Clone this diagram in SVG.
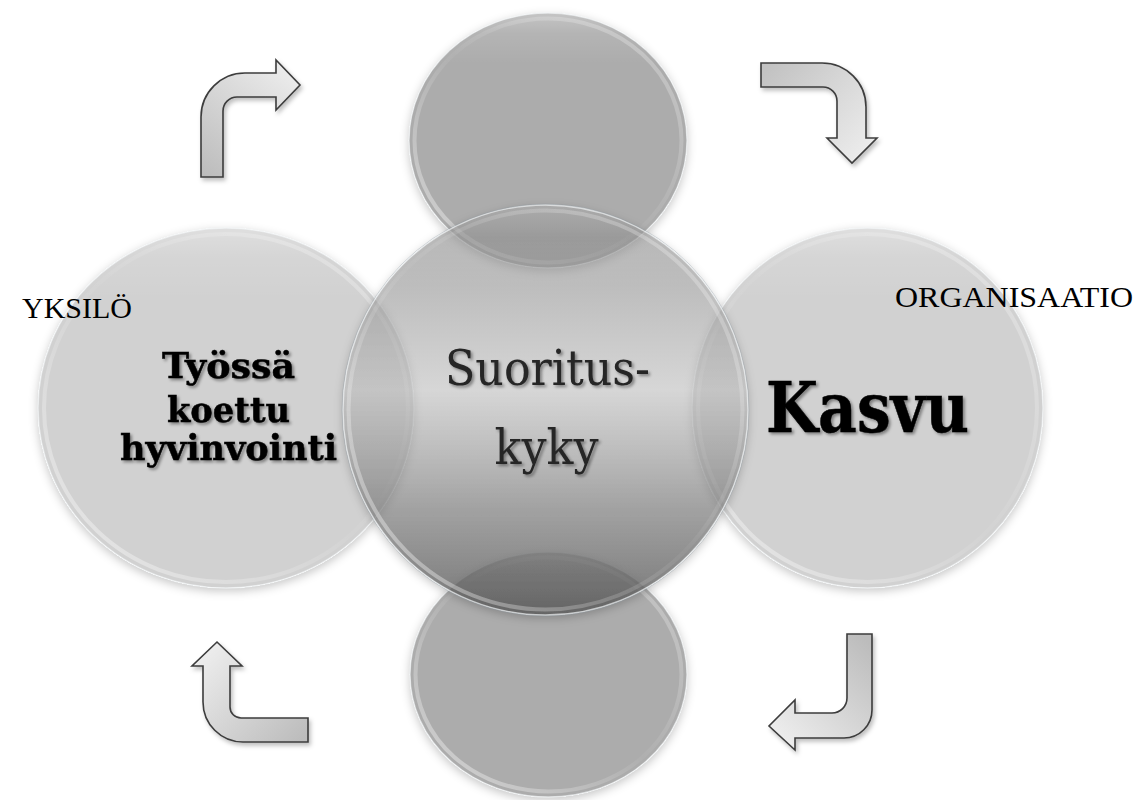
<svg xmlns="http://www.w3.org/2000/svg" width="1140" height="800" viewBox="0 0 1140 800">
  <defs>
    <style>
      .rim { fill: none; stroke: url(#rimGrad); stroke-width: 4; }
      .edge { fill: none; stroke: #f4f7f9; stroke-width: 1.4; stroke-opacity: 0.65; }
      .edge2 { fill: none; stroke: #8f9aa3; stroke-width: 0.8; stroke-opacity: 0.4; }
      .arrow { stroke: #3c3c3c; stroke-width: 1.6; stroke-linejoin: miter; filter: url(#arrowShadow); }
      .bold { font-family: "DejaVu Serif", "Liberation Serif", serif; font-weight: bold; fill: #000; stroke: #000; stroke-width: 0.5; filter: url(#txtShadow); }
      .plain { font-family: "DejaVu Serif", "Liberation Serif", serif; fill: #262626; filter: url(#txtShadow); }
      .side { font-family: "Liberation Serif", "Times New Roman", serif; fill: #000; font-size: 30px; }
    </style>

    <!-- glassy inner rim: bright at lower-left and top-right, faint across the middle -->
    <linearGradient id="rimGrad" x1="1" y1="0" x2="0" y2="1">
      <stop offset="0" stop-color="#fff" stop-opacity="0.35"/>
      <stop offset="0.5" stop-color="#fff" stop-opacity="0.04"/>
      <stop offset="1" stop-color="#fff" stop-opacity="0.5"/>
    </linearGradient>

    <!-- central disc: metallic vertical gradient -->
    <linearGradient id="centerFill" x1="0" y1="0" x2="0" y2="1">
      <stop offset="0" stop-color="#707070" stop-opacity="0.6"/>
      <stop offset="0.45" stop-color="#bbbbbb" stop-opacity="0.6"/>
      <stop offset="0.75" stop-color="#777777" stop-opacity="0.7"/>
      <stop offset="1" stop-color="#545454" stop-opacity="0.8"/>
    </linearGradient>

    <!-- top highlight band inside each disc -->
    <linearGradient id="topSheen" x1="0" y1="0" x2="0" y2="1">
      <stop offset="0" stop-color="#fff" stop-opacity="0.3"/>
      <stop offset="0.08" stop-color="#fff" stop-opacity="0.1"/>
      <stop offset="0.2" stop-color="#fff" stop-opacity="0"/>
    </linearGradient>

    <!-- arrow fills: darker at the tail, lighter toward the head -->
    <linearGradient id="arrGrad1" gradientUnits="userSpaceOnUse" x1="205" y1="177" x2="290" y2="70">
      <stop offset="0" stop-color="#bcbcbc"/>
      <stop offset="1" stop-color="#ececec"/>
    </linearGradient>
    <linearGradient id="arrGrad2" gradientUnits="userSpaceOnUse" x1="761" y1="75" x2="860" y2="160">
      <stop offset="0" stop-color="#c2c2c2"/>
      <stop offset="1" stop-color="#ececec"/>
    </linearGradient>
    <linearGradient id="arrGrad3" gradientUnits="userSpaceOnUse" x1="308" y1="735" x2="215" y2="645">
      <stop offset="0" stop-color="#bcbcbc"/>
      <stop offset="1" stop-color="#ececec"/>
    </linearGradient>
    <linearGradient id="arrGrad4" gradientUnits="userSpaceOnUse" x1="860" y1="634" x2="772" y2="726">
      <stop offset="0" stop-color="#bcbcbc"/>
      <stop offset="1" stop-color="#ececec"/>
    </linearGradient>

    <!-- soft halo drawn only outside the shape -->
    <filter id="halo" x="-20%" y="-20%" width="140%" height="140%">
      <feComponentTransfer in="SourceAlpha" result="solid">
        <feFuncA type="linear" slope="20"/>
      </feComponentTransfer>
      <feGaussianBlur in="solid" stdDeviation="5" result="blur"/>
      <feOffset in="blur" dx="0" dy="3" result="off"/>
      <feComposite in="off" in2="solid" operator="out" result="outside"/>
      <feColorMatrix in="outside" type="matrix" values="0 0 0 0 0  0 0 0 0 0  0 0 0 0 0  0 0 0 0.22 0" result="shadow"/>
      <feMerge>
        <feMergeNode in="shadow"/>
        <feMergeNode in="SourceGraphic"/>
      </feMerge>
    </filter>

    <filter id="arrowShadow" x="-20%" y="-20%" width="150%" height="150%">
      <feDropShadow dx="2" dy="3" stdDeviation="2" flood-color="#000" flood-opacity="0.25"/>
    </filter>

    <filter id="txtShadow" x="-10%" y="-20%" width="120%" height="150%">
      <feDropShadow dx="2" dy="2" stdDeviation="1.6" flood-color="#000" flood-opacity="0.4"/>
    </filter>
  </defs>

  <rect width="1140" height="800" fill="#fff"/>

  <!-- satellite discs -->
  <g id="node-left">
    <ellipse cx="226" cy="408" rx="188" ry="180" fill="#b2b2b2" fill-opacity="0.6" filter="url(#halo)"/>
    <ellipse cx="226" cy="408" rx="188" ry="180" fill="url(#topSheen)"/>
    <ellipse cx="226" cy="408" rx="182" ry="174" class="rim"/>
    <ellipse cx="226" cy="408" rx="188" ry="180" class="edge"/>
  </g>

  <g id="node-right">
    <ellipse cx="867.5" cy="408" rx="175.5" ry="180" fill="#b2b2b2" fill-opacity="0.6" filter="url(#halo)"/>
    <ellipse cx="867.5" cy="408" rx="175.5" ry="180" fill="url(#topSheen)"/>
    <ellipse cx="867.5" cy="408" rx="169.5" ry="174" class="rim"/>
    <ellipse cx="867.5" cy="408" rx="175.5" ry="180" class="edge"/>
  </g>

  <g id="node-top">
    <ellipse cx="548" cy="140.5" rx="139" ry="127.5" fill="#757575" fill-opacity="0.6" filter="url(#halo)"/>
    <ellipse cx="548" cy="140.5" rx="139" ry="127.5" fill="url(#topSheen)"/>
    <ellipse cx="548" cy="140.5" rx="133.5" ry="122" class="rim"/>
    <ellipse cx="548" cy="140.5" rx="139" ry="127.5" class="edge"/>
  </g>

  <g id="node-bottom">
    <ellipse cx="548.5" cy="674.5" rx="138.5" ry="122.5" fill="#757575" fill-opacity="0.6" filter="url(#halo)"/>
    <ellipse cx="548.5" cy="674.5" rx="138.5" ry="122.5" fill="url(#topSheen)"/>
    <ellipse cx="548.5" cy="674.5" rx="133" ry="117" class="rim"/>
    <ellipse cx="548.5" cy="674.5" rx="138.5" ry="122.5" class="edge"/>
  </g>

  <!-- central disc -->
  <g id="node-center">
    <ellipse cx="545.5" cy="410" rx="202.5" ry="205" fill="url(#centerFill)" filter="url(#halo)"/>
    <ellipse cx="545.5" cy="410" rx="202.5" ry="205" fill="url(#topSheen)"/>
    <ellipse cx="545.5" cy="410" rx="197" ry="199.5" class="rim"/>
    <ellipse cx="545.5" cy="410" rx="202.5" ry="205" class="edge"/>
    <ellipse cx="545.5" cy="410" rx="203.5" ry="206" class="edge2"/>
  </g>

  <!-- disc labels -->
  <g id="label-left">
    <text class="bold" font-size="36" text-anchor="middle" x="228.5" y="378" textLength="133" lengthAdjust="spacingAndGlyphs">Työssä</text>
    <text class="bold" font-size="36" text-anchor="middle" x="228.5" y="422" textLength="123" lengthAdjust="spacingAndGlyphs">koettu</text>
    <text class="bold" font-size="36" text-anchor="middle" x="228.5" y="460" textLength="217" lengthAdjust="spacingAndGlyphs">hyvinvointi</text>
  </g>
  <g id="label-center">
    <text class="plain" font-size="48" text-anchor="middle" x="547.5" y="385" textLength="205" lengthAdjust="spacingAndGlyphs">Suoritus-</text>
    <text class="plain" font-size="48" text-anchor="middle" x="546.5" y="464" textLength="104" lengthAdjust="spacingAndGlyphs">kyky</text>
  </g>
  <g id="label-right">
    <text class="bold" font-size="69" text-anchor="middle" x="867.5" y="432" textLength="203" lengthAdjust="spacingAndGlyphs">Kasvu</text>
  </g>

  <!-- side captions -->
  <g id="captions">
    <text class="side" x="22" y="318">YKSILÖ</text>
    <text class="side" x="895" y="307" textLength="238" lengthAdjust="spacingAndGlyphs">ORGANISAATIO</text>
  </g>

  <!-- cycle arrows -->
  <g id="connectors">
    <path class="arrow" fill="url(#arrGrad1)" d="M201 177 L201 117 A44 44 0 0 1 245 73 L276 73 L276 60 L300 85 L276 110 L276 97 L237 97 A14 14 0 0 0 223 111 L223 177 Z"/>
    <path class="arrow" fill="url(#arrGrad2)" d="M761 63 L822 63 A44 44 0 0 1 866 107 L866 138 L877 138 L852 163 L827 138 L837 138 L837 101 A14 14 0 0 0 823 87 L761 87 Z"/>
    <path class="arrow" fill="url(#arrGrad3)" d="M308 742 L243 742 A40 40 0 0 1 203 702 L203 666 L192 666 L217 642 L242 666 L230 666 L230 707 A11 11 0 0 0 241 718 L308 718 Z"/>
    <path class="arrow" fill="url(#arrGrad4)" d="M847 634 L872 634 L872 710 A28 28 0 0 1 844 738 L795 738 L795 750 L769 726 L795 700 L795 713 L832 713 A15 15 0 0 0 847 698 Z"/>
  </g>
</svg>
